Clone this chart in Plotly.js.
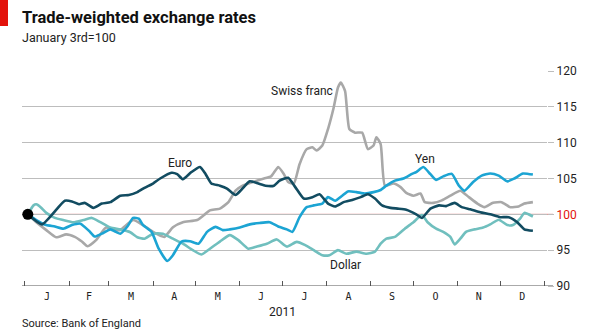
<!DOCTYPE html>
<html>
<head>
<meta charset="utf-8">
<script src="https://cdn.plot.ly/plotly-3.0.1.min.js"></script>
<style>html,body{margin:0;padding:0;background:#fff;}#chart{width:595px;height:335px;}</style>
</head>
<body>
<div id="chart"></div>
<script>
// Day offsets from 1 January 2011 (0 = Jan 1), values index January 3rd = 100
const euroDays = [2,12,28,33,38,42,48,54,60,67,73,79,84,90,95,103,107,111,117,123,127,131,137,142,148,152,158,164,169,175,179,185,190,196,202,207,213,218,224,230,236,241,246,251,257,262,268,275,279,285,291,296,302,307,313,320,327,334,340,346,351,357];
const euroVals = [100,98.6,101.9,101.8,101.4,101.6,100.9,101.5,101.7,102.6,102.7,103.1,103.7,104.3,105,105.8,105.6,104.9,105.9,106.6,105.6,104.3,104,103.6,102.7,103.4,104.6,104.3,104,104,104.7,105.1,103.8,102.2,102.4,102.8,101.5,101.1,101.7,102,102.4,102.8,102.2,101.25,100.9,100.8,100.65,100,99.5,100.8,101.25,101.15,101.6,101,100.7,100.3,100,99.6,99.6,98.9,97.9,97.7];

const yenDays = [2,8,15,21,27,33,39,45,49,55,60,64,67,72,76,80,83,89,94,100,104,110,116,122,128,134,139,144,151,158,165,172,178,184,188,193,198,203,209,213,218,223,227,233,239,245,250,254,260,266,272,275,280,285,289,294,300,305,309,315,321,327,333,339,344,350,357];
const yenVals = [100,99.2,98.5,98.3,98,98.5,98.7,97.7,96.9,97.4,97.9,97.55,97.3,98.3,99.5,99.4,98.5,97.55,95.2,93.5,94.3,96.2,96.25,95.9,97.55,98.25,97.8,97.9,98.15,98.6,98.8,98.9,98.3,97.9,97.55,99.6,101,101.25,101.5,102.4,101.9,102.6,103.2,103.1,102.9,103.1,103.4,104,104.7,105,105.65,105.9,106.6,105.6,104.8,105.3,105.65,104,103.3,104.5,105.4,105.7,105.4,104.6,105,105.7,105.55];

const dollarDays = [2,6,8,11,15,21,27,34,41,47,53,60,67,74,79,84,90,97,104,111,118,124,130,137,144,150,157,163,170,177,184,191,197,203,209,214,220,226,233,240,246,250,254,260,267,273,279,283,289,294,299,302,306,310,316,322,327,333,339,343,348,351,357];
const dollarVals = [100,101.25,101.4,101,100.2,99.5,99.2,98.9,99.2,99.5,98.9,98.15,97.9,97.5,96.8,96.6,97.3,97.3,96.6,95.9,95,94.4,95.2,96.2,97.1,96.4,95.2,95.5,95.9,96.5,95.5,96.15,95.7,95,94.3,94.3,95,94.5,94.8,94.5,94.8,95.9,96.6,96.85,98,98.9,99.9,98.9,98,97.55,96.85,95.8,96.6,97.55,97.9,98.15,98.6,99.25,98.5,98.5,99.4,100.2,99.7];

const swissDays = [2,8,15,22,29,35,40,44,50,57,64,67,76,83,90,98,104,111,121,127,130,137,143,148,153,160,168,173,178,182,185,189,193,198,202,205,209,213,217,220,222,225,228,232,237,241,245,247,250,253,259,264,268,273,278,281,287,293,299,306,312,318,323,329,335,341,347,351,357];
const swissVals = [100,98.9,97.8,96.8,97.2,96.85,96.2,95.55,96.4,98.15,97.8,97.8,99.2,98.5,97.55,96.85,98.2,98.9,99.2,100.1,100.55,100.8,101.7,103.3,104,104.5,105,105.3,106.6,105.6,104.5,104.3,107,109.1,109.35,108.9,109.6,111.9,114.9,117.7,118.4,117.2,111.9,111.4,111.4,109.1,109.6,110.75,109.8,104,104.3,103.8,103,102.6,102.9,101.7,101.6,101.95,102.6,103.3,102.4,101.5,101,101.6,101.7,101,101.1,101.5,101.7];

const monthLabels = ['J','F','M','A','M','J','J','A','S','O','N','D'];
const yTicks = [90,95,100,105,110,115,120];
const baseValue = 100;
const yearLabel = '2011';

function toDate(d){ return new Date(Date.UTC(2011,0,1+d)).toISOString().slice(0,10); }
function monthStart(m){ return new Date(Date.UTC(2011,m,1)).toISOString().slice(0,10); }
function monthMid(m){
  const a = Date.UTC(2011,m,1), b = Date.UTC(2011,m+1,1);
  return new Date((a+b)/2).toISOString().slice(0,19).replace('T',' ');
}

const colors = {euro:'#124c61', yen:'#1ca4d3', dollar:'#70bfbe', swiss:'#a8a8a8'};
const lw = 2.6;
function line(days, vals, color){
  return {type:'scatter', mode:'lines', x:days.map(toDate), y:vals,
    line:{color:color, width:lw, shape:'spline', smoothing:0.5}, hoverinfo:'skip', cliponaxis:false};
}

const traces = [
  line(swissDays, swissVals, colors.swiss),
  line(dollarDays, dollarVals, colors.dollar),
  line(yenDays, yenVals, colors.yen),
  line(euroDays, euroVals, colors.euro),
  {type:'scatter', mode:'markers', x:[toDate(euroDays[0])], y:[baseValue],
   marker:{color:'#000', size:11}, hoverinfo:'skip', cliponaxis:false}
];

const tickvalsMonths = monthLabels.map((_,i)=>monthMid(i));
const minorTicks = [];
for (let m=0;m<=12;m++) minorTicks.push(monthStart(m));

const font = 'Roboto, sans-serif';
const extra = 6/525;
const plotH = 215;

const layout = {
  width:595, height:335,
  margin:{l:22, r:48, t:71, b:49},
  paper_bgcolor:'#fff', plot_bgcolor:'#fff',
  showlegend:false,
  title:{text:'<b>Trade-weighted exchange rates</b>', x:0.037, xanchor:'left', xref:'container',
         y:1-17/335, yanchor:'middle', yref:'container', font:{family:font, size:16.5, color:'#111'}},
  xaxis:{type:'date', range:['2010-12-29 22:00','2012-01-02 22:00'], showgrid:false, zeroline:false,
         showline:false, tickmode:'array', tickvals:tickvalsMonths, ticktext:monthLabels, ticks:'',
         ticklabelstandoff:3,
         tickfont:{family:'DejaVu Sans Mono, monospace', size:10, color:'#222'},
         minor:{tickmode:'array', tickvals:minorTicks, ticks:'inside', ticklen:5, tickwidth:1, tickcolor:'#555', showgrid:false},
         fixedrange:true},
  yaxis:{side:'right', range:[90,120], tickmode:'array', tickvals:yTicks,
         ticktext:yTicks.map(v=> v===baseValue ? '<span style="color:#e3120b">'+v+'</span>' : String(v)),
         showgrid:true, gridcolor:'#bdbdbd', gridwidth:1, zeroline:false, showline:false,
         ticks:'outside', ticklen:6, tickcolor:'#bdbdbd', tickwidth:1,
         tickfont:{family:font, size:12, color:'#222'}, fixedrange:true},
  shapes:[
    {type:'line', xref:'paper', yref:'y', x0:0, x1:1+extra, y0:baseValue, y1:baseValue, line:{color:'#e59a9a', width:1.3}, layer:'below'},
    {type:'line', xref:'paper', yref:'y', x0:0, x1:1+extra, y0:yTicks[0], y1:yTicks[0], line:{color:'#555', width:1}, layer:'above'},
    {type:'rect', xref:'paper', yref:'paper', x0:-22/525, x1:-14/525, y0:(286-26)/plotH, y1:286/plotH, fillcolor:'#e3120b', line:{width:0}, layer:'above'}
  ],
  annotations:[
    {xref:'paper', yref:'paper', x:0, xshift:-2, y:(286-38)/plotH, xanchor:'left', yanchor:'middle', showarrow:false,
     text:'January 3rd=100', font:{family:font, size:12.5, color:'#222'}},
    {xref:'x', yref:'paper', x:'2011-07-01', y:(286-312)/plotH, xanchor:'center', yanchor:'middle', showarrow:false,
     text:yearLabel, font:{family:font, size:12, color:'#222'}},
    {xref:'paper', yref:'paper', x:0, xshift:-2, y:(286-323)/plotH, xanchor:'left', yanchor:'middle', showarrow:false,
     text:'Source: Bank of England', font:{family:font, size:11, color:'#222'}},
    {xref:'x', yref:'y', x:'2011-04-20', y:107.1, showarrow:false, text:'Euro', font:{family:font, size:12, color:'#222'}},
    {xref:'x', yref:'y', x:'2011-07-15', y:117.2, showarrow:false, text:'Swiss franc', font:{family:font, size:12, color:'#222'}},
    {xref:'x', yref:'y', x:'2011-10-09', y:107.7, showarrow:false, text:'Yen', font:{family:font, size:12, color:'#222'}},
    {xref:'x', yref:'y', x:'2011-08-14', y:92.95, showarrow:false, text:'Dollar', font:{family:font, size:12, color:'#222'}}
  ]
};

Plotly.newPlot('chart', traces, layout, {staticPlot:true, displayModeBar:false});
</script>
</body>
</html>
